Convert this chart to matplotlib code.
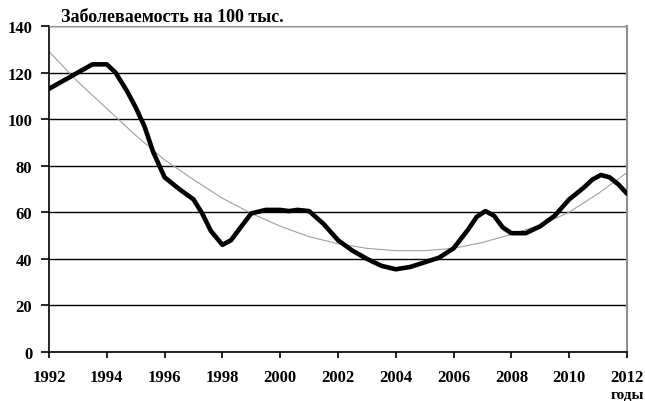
import matplotlib
matplotlib.use('Agg')
import matplotlib.pyplot as plt

# incidence per 100k
years = [1992, 1992.5, 1993, 1993.5, 1994, 1994.3, 1994.7, 1995, 1995.3, 1995.6,
         1996, 1996.5, 1997, 1997.3, 1997.6, 1998, 1998.3, 1998.6, 1999, 1999.5,
         2000, 2000.3, 2000.6, 2001, 2001.5, 2002, 2002.5, 2003, 2003.5, 2004,
         2004.5, 2005, 2005.5, 2006, 2006.5, 2006.8, 2007.1, 2007.4, 2007.7, 2008,
         2008.5, 2009, 2009.5, 2010, 2010.5, 2010.8, 2011.1, 2011.4, 2011.7, 2012]
incidence = [113, 116.5, 120, 123.5, 123.5, 120, 112, 105, 97, 86,
             75, 70, 65.5, 59.5, 52, 46, 48, 53, 59.5, 61,
             61, 60.5, 61, 60.5, 55, 48, 43.5, 40, 37, 35.5,
             36.5, 38.5, 40.5, 44.5, 52.5, 58, 60.5, 58.5, 53.5, 51,
             51, 54, 58.5, 65.5, 70.5, 74, 76, 75, 72, 68]

# trend line
trend_years = list(range(1992, 2013))
trend = [129, 116, 104.5, 93, 82.5, 74, 66, 59.5, 54, 49.5, 46.5,
         44.5, 43.5, 43.5, 44.5, 47, 50.5, 54.5, 60, 68, 77]

plt.rcParams['font.family'] = ['Liberation Serif', 'DejaVu Serif']

fig = plt.figure(figsize=(6.45, 4.02), dpi=100)
ax = fig.add_axes([0.076, 0.122, 0.896, 0.811])

ax.plot(trend_years, trend, color='#a0a0a0', lw=0.8, zorder=2)
ax.plot(years, incidence, color='black', lw=3.3, solid_joinstyle='round',
        solid_capstyle='round', zorder=3)

ax.set_xlim(1992, 2012)
ax.set_ylim(0, 140)
ax.set_xticks(range(1992, 2013, 2))
ax.set_yticks(range(0, 141, 20))
ax.yaxis.grid(True, color='black', lw=1)
ax.set_axisbelow(True)

for lab in ax.get_xticklabels() + ax.get_yticklabels():
    lab.set_fontweight('bold')
    lab.set_fontsize(12)
ax.tick_params(axis='x', direction='out', length=4, width=1.2, pad=8)
ax.tick_params(axis='y', direction='out', length=6, width=1.2, pad=6)

ax.spines['left'].set_linewidth(1.2)
ax.spines['bottom'].set_linewidth(1.2)
ax.spines['top'].set_color('#909090')
ax.spines['right'].set_color('#909090')
ax.spines['right'].set_linewidth(1.5)

fig.text(0.094, 0.957, 'Заболеваемость на 100 тыс.', fontsize=13,
         fontweight='bold', ha='left', va='center')
fig.text(0.999, 0.0, 'годы', fontsize=11, fontweight='bold',
         ha='right', va='bottom')

fig.savefig('out.png', dpi=100)
